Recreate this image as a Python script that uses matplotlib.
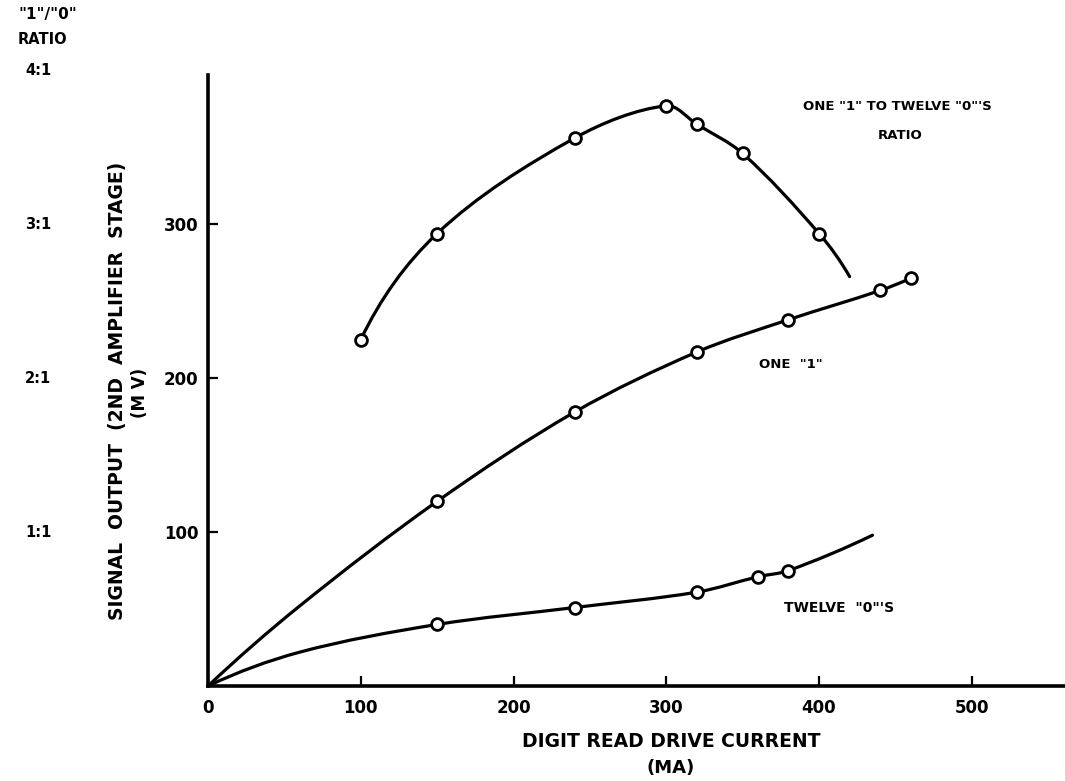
import numpy as np
import matplotlib.pyplot as plt
from matplotlib.path import Path
from matplotlib.patches import PathPatch
from matplotlib.transforms import blended_transform_factory

# measured points (drive current in MA, output in MV)
ratio_x = [100, 150, 240, 300, 320, 350, 400]
ratio_y = [225, 294, 356, 377, 365, 346, 294]

one_x = [150, 240, 320, 380, 440, 460]
one_y = [120, 178, 217, 238, 257, 265]

zero_x = [150, 240, 320, 360, 380]
zero_y = [40, 51, 61, 71, 75]

# hand-faired curves through the points, including their free ends
ratio_curve_x = [100, 150, 240, 300, 320, 350, 400, 420]
ratio_curve_y = [225, 294, 356, 377, 365, 346, 294, 266]

one_curve_x = [0, 60, 150, 240, 320, 380, 440, 460]
one_curve_y = [0, 52, 120, 178, 217, 238, 257, 265]

zero_curve_x = [0, 60, 150, 240, 320, 360, 380, 435]
zero_curve_y = [0, 22, 40, 51, 61, 71, 75, 98]

x_ticks = [0, 100, 200, 300, 400, 500]
y_ticks = [100, 200, 300]
ratio_levels = [100, 200, 300, 400]
ratio_labels = ['1:1', '2:1', '3:1', '4:1']

FONT = 'DejaVu Sans'


def smooth_path(xs, ys):
    """Bezier path passing through every vertex (chord-scaled Catmull-Rom)."""
    p = np.column_stack([xs, ys]).astype(float)
    n = len(p)
    d = np.hypot(*np.diff(p, axis=0).T)
    tang = np.zeros_like(p)
    for i in range(1, n - 1):
        tang[i] = (p[i + 1] - p[i - 1]) / (d[i - 1] + d[i])
    # free ends: let the curve bend naturally into the end points
    tang[0] = 2 * (p[1] - p[0]) / d[0] - tang[1]
    tang[-1] = 2 * (p[-1] - p[-2]) / d[-1] - tang[-2]
    verts = [p[0]]
    codes = [Path.MOVETO]
    for i in range(n - 1):
        verts += [p[i] + tang[i] * d[i] / 3, p[i + 1] - tang[i + 1] * d[i] / 3, p[i + 1]]
        codes += [Path.CURVE4] * 3
    return Path(verts, codes)


fig = plt.figure(figsize=(10.65, 7.81), dpi=100)
ax = fig.add_axes([0.1953, 0.1216, 0.8047, 0.7824])
ax.set_xlim(0, 561)
ax.set_ylim(0, 397)

for cx, cy in [(ratio_curve_x, ratio_curve_y), (one_curve_x, one_curve_y),
               (zero_curve_x, zero_curve_y)]:
    ax.add_patch(PathPatch(smooth_path(cx, cy), fill=False, lw=2.3,
                           ec='black', capstyle='round', zorder=2))

for px, py in [(ratio_x, ratio_y), (one_x, one_y), (zero_x, zero_y)]:
    ax.plot(px, py, ls='none', marker='o', ms=8.5, mfc='white',
            mec='black', mew=2.0, zorder=3)

for s in ['top', 'right']:
    ax.spines[s].set_visible(False)
for s in ['left', 'bottom']:
    ax.spines[s].set_linewidth(2.6)

ax.set_xticks(x_ticks)
ax.set_yticks(y_ticks)
ax.tick_params(direction='in', length=7, width=1.6)
ax.tick_params(axis='x', pad=9)
ax.tick_params(axis='y', pad=7)
for lab in ax.get_xticklabels() + ax.get_yticklabels():
    lab.set_fontfamily(FONT)
    lab.set_fontweight('bold')
    lab.set_fontsize(12)

# ratio scale on the far left
tr = blended_transform_factory(fig.transFigure, ax.transData)
for lv, lb in zip(ratio_levels, ratio_labels):
    ax.text(0.036, lv, lb, transform=tr, ha='center', va='center',
            fontsize=10.5, fontweight='bold', family=FONT, clip_on=False)

fig.text(0.045, 0.981, '"1"/"0"', ha='center', va='center', fontsize=11,
         fontweight='bold', family=FONT)
fig.text(0.040, 0.949, 'RATIO', ha='center', va='center', fontsize=10.5,
         fontweight='bold', family=FONT)

fig.text(0.110, 0.50, 'SIGNAL  OUTPUT  (2ND  AMPLIFIER  STAGE)', rotation=90,
         ha='center', va='center', fontsize=13.5, fontweight='bold', family=FONT)
fig.text(0.131, 0.497, '(M V)', rotation=90, ha='center', va='center',
         fontsize=12, fontweight='bold', family=FONT)

fig.text(0.630, 0.050, 'DIGIT READ DRIVE CURRENT', ha='center', va='center',
         fontsize=13.5, fontweight='bold', family=FONT)
fig.text(0.630, 0.017, '(MA)', ha='center', va='center',
         fontsize=13, fontweight='bold', family=FONT)

# curve captions
ax.text(0.754, 0.863, 'ONE "1" TO TWELVE "0"\'S', transform=fig.transFigure,
        ha='left', va='center', fontsize=9.5, fontweight='bold', family=FONT)
ax.text(0.845, 0.827, 'RATIO', transform=fig.transFigure, ha='center',
        va='center', fontsize=9.5, fontweight='bold', family=FONT)
ax.text(0.713, 0.533, 'ONE  "1"', transform=fig.transFigure, ha='left',
        va='center', fontsize=9.5, fontweight='bold', family=FONT)
ax.text(0.736, 0.221, 'TWELVE  "0"\'S', transform=fig.transFigure, ha='left',
        va='center', fontsize=10, fontweight='bold', family=FONT)

fig.savefig('out.png', dpi=100)
